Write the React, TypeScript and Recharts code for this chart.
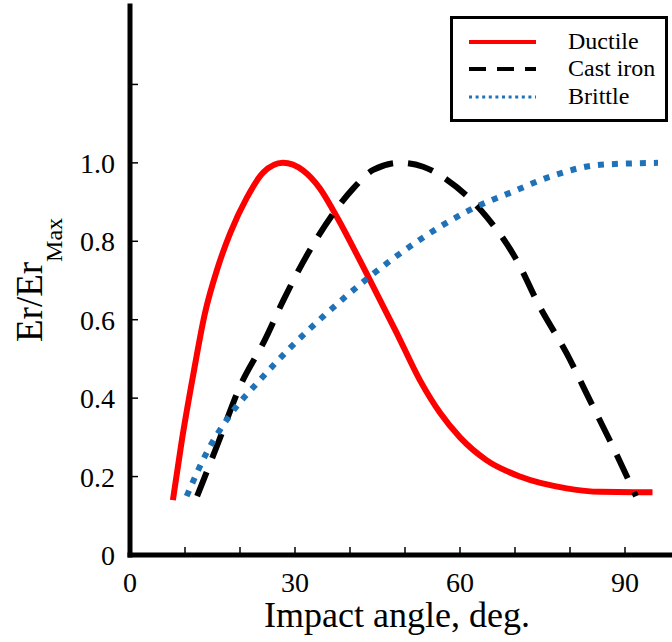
import React from 'react';
import { LineChart, Line, XAxis, YAxis, Legend } from 'recharts';

const FONT = 'Liberation Serif, Times New Roman, serif';
const serifStyle = { fontFamily: FONT };

// Ductile (red, solid)
const ductileAngle = [7.8, 9.4, 11.5, 13.6, 16, 18.2, 21.2, 24.2, 27.8, 31.5, 34.5, 36.9, 43.3, 48.5, 52.7, 56.4, 60, 64.8, 70.9, 79.4, 85.5, 95];
const ductileValue = [0.14, 0.29, 0.46, 0.615, 0.735, 0.82, 0.91, 0.975, 1.0, 0.98, 0.935, 0.88, 0.71, 0.566, 0.446, 0.362, 0.3, 0.242, 0.2, 0.17, 0.161, 0.16];

// Cast iron (black, dashed)
const castAngle = [12.2, 16, 20, 24.5, 27.9, 32.4, 40.6, 44.2, 49.1, 53.3, 57.6, 64.8, 70.3, 74.5, 79.4, 83.6, 87.8, 92];
const castValue = [0.15, 0.285, 0.43, 0.548, 0.65, 0.77, 0.935, 0.982, 1.0, 0.99, 0.957, 0.863, 0.752, 0.633, 0.514, 0.395, 0.276, 0.15];

// Brittle (blue, dotted)
const brittleAngle = [10.3, 13.9, 18.2, 23.6, 29.1, 35.1, 43.6, 52.7, 61.8, 69.7, 76.4, 85.5, 96];
const brittleValue = [0.15, 0.26, 0.357, 0.446, 0.528, 0.608, 0.71, 0.804, 0.88, 0.927, 0.965, 0.995, 1.0];

const seriesNames = ['Ductile', 'Cast iron', 'Brittle'];
const seriesColors = ['#ff0000', '#000000', '#1f72b8'];

const xTicks = [0, 10, 20, 30, 40, 50, 60, 70, 80, 90, 100];
const xTickLabels = [0, 30, 60, 90];
const yTicks = [0, 0.2, 0.4, 0.6, 0.8, 1.0, 1.2, 1.4];
const yTickLabels = [0, 0.2, 0.4, 0.6, 0.8, 1.0];

const toPoints = (xs: number[], ys: number[]) => xs.map((x, i) => ({ x, y: ys[i] }));
const ductileData = toPoints(ductileAngle, ductileValue);
const castData = toPoints(castAngle, castValue);
const brittleData = toPoints(brittleAngle, brittleValue);

const near = (a: number, b: number) => Math.abs(a - b) < 1e-6;

const BottomTick = (props: any) => {
  const { x, y, payload } = props;
  const v = payload.value;
  const show = xTickLabels.some((t) => near(t, v));
  return (
    <g>
      {v !== 0 && v !== 100 && <line x1={x} x2={x} y1={y} y2={y - 8} stroke="#000" strokeWidth={1.5} />}
      {show && (
        <text x={x} y={y + 37} textAnchor="middle" fontSize={28} fontFamily={FONT} style={serifStyle} fill="#000">
          {v}
        </text>
      )}
    </g>
  );
};

const TopTick = (props: any) => {
  const { x, y, payload } = props;
  const v = payload.value;
  if (v === 0 || v === 100) return <g />;
  return <line x1={x} x2={x} y1={y} y2={y + 8} stroke="#000" strokeWidth={1.5} />;
};

const LeftTick = (props: any) => {
  const { x, y, payload } = props;
  const v = payload.value;
  const show = yTickLabels.some((t) => near(t, v));
  return (
    <g>
      {v !== 0 && !near(v, 1.4) && <line x1={x} x2={x + 8} y1={y} y2={y} stroke="#000" strokeWidth={1.5} />}
      {show && (
        <text x={x - 15} y={y + 10} textAnchor="end" fontSize={28} fontFamily={FONT} style={serifStyle} fill="#000">
          {v === 0 ? '0' : v.toFixed(1)}
        </text>
      )}
    </g>
  );
};

const RightTick = (props: any) => {
  const { x, y, payload } = props;
  const v = payload.value;
  if (v === 0 || near(v, 1.4)) return <g />;
  return <line x1={x - 10} x2={x} y1={y} y2={y} stroke="#000" strokeWidth={1.5} />;
};

const XTitle = () => (
  <text x={397} y={627} textAnchor="middle" fontSize={36} fontFamily={FONT} style={serifStyle} fill="#000">
    Impact angle, deg.
  </text>
);

const YTitle = () => (
  <text x={42} y={342} transform="rotate(-90, 42, 342)" textAnchor="start" fontFamily={FONT} style={serifStyle} fill="#000">
    <tspan fontSize={37}>Er/Er</tspan>
    <tspan fontSize={24} dy={20}>Max</tspan>
  </text>
);

const legendStyles = [
  { dash: undefined as string | undefined, width: 4 },
  { dash: '17 11', width: 4 },
  { dash: '3 3.6', width: 3 },
];
const legendRowY = [23, 50, 78];

const LegendBox = () => (
  <div
    style={{
      width: 218,
      height: 106,
      border: '3px solid #000',
      boxSizing: 'border-box',
      background: '#fff',
      fontFamily: FONT,
    }}
  >
    <svg width={212} height={100} style={{ display: 'block' }}>
      {seriesNames.map((name, i) => (
        <g key={name}>
          <line
            x1={16}
            x2={83}
            y1={legendRowY[i]}
            y2={legendRowY[i]}
            stroke={seriesColors[i]}
            strokeWidth={legendStyles[i].width}
            strokeDasharray={legendStyles[i].dash}
          />
          <text x={115} y={legendRowY[i] + 7} fontSize={24} fontFamily={FONT} style={serifStyle} fill="#000">
            {name}
          </text>
        </g>
      ))}
    </svg>
  </div>
);

export default function App() {
  return (
    <div
      style={{
        position: 'absolute',
        left: 0,
        top: 0,
        width: 672,
        height: 642,
        overflow: 'hidden',
        background: '#fff',
        fontFamily: FONT,
      }}
    >
      <LineChart width={690} height={642} margin={{ top: 6, right: 0, left: 0, bottom: 0 }} style={serifStyle}>
        <XAxis
          xAxisId="bottom"
          dataKey="x"
          type="number"
          domain={[0, 100]}
          ticks={xTicks}
          interval={0}
          height={87}
          tickSize={0}
          tickMargin={0}
          tickLine={false}
          axisLine={{ stroke: '#000', strokeWidth: 5, strokeLinecap: 'square' }}
          tick={<BottomTick />}
          label={<XTitle />}
        />
        <XAxis
          xAxisId="top"
          orientation="top"
          dataKey="x"
          type="number"
          domain={[0, 100]}
          ticks={xTicks}
          interval={0}
          height={0}
          tickSize={0}
          tickMargin={0}
          tickLine={false}
          axisLine={{ stroke: '#000', strokeWidth: 4, strokeLinecap: 'square' }}
          tick={<TopTick />}
        />
        <YAxis
          yAxisId="left"
          type="number"
          domain={[0, 1.4]}
          ticks={yTicks}
          interval={0}
          width={130}
          tickSize={0}
          tickMargin={0}
          tickLine={false}
          axisLine={{ stroke: '#000', strokeWidth: 5, strokeLinecap: 'square' }}
          tick={<LeftTick />}
          label={<YTitle />}
        />
        <YAxis
          yAxisId="right"
          orientation="right"
          type="number"
          domain={[0, 1.4]}
          ticks={yTicks}
          interval={0}
          width={10}
          tickSize={0}
          tickMargin={0}
          tickLine={false}
          axisLine={{ stroke: '#000', strokeWidth: 4, strokeLinecap: 'square' }}
          tick={<RightTick />}
        />
        <Line
          xAxisId="bottom"
          yAxisId="left"
          data={ductileData}
          dataKey="y"
          name={seriesNames[0]}
          type="monotone"
          stroke={seriesColors[0]}
          strokeWidth={6}
          dot={false}
          activeDot={false}
          isAnimationActive={false}
        />
        <Line
          xAxisId="bottom"
          yAxisId="left"
          data={castData}
          dataKey="y"
          name={seriesNames[1]}
          type="monotone"
          stroke={seriesColors[1]}
          strokeWidth={6}
          strokeDasharray="26 15"
          dot={false}
          activeDot={false}
          isAnimationActive={false}
        />
        <Line
          xAxisId="bottom"
          yAxisId="left"
          data={brittleData}
          dataKey="y"
          name={seriesNames[2]}
          type="monotone"
          stroke={seriesColors[2]}
          strokeWidth={6}
          strokeDasharray="6 8"
          dot={false}
          activeDot={false}
          isAnimationActive={false}
        />
        <Legend
          layout="horizontal"
          verticalAlign="middle"
          align="center"
          content={<LegendBox />}
          wrapperStyle={{ position: 'absolute', left: 450, top: 16, width: 218, height: 106 }}
        />
      </LineChart>
    </div>
  );
}
